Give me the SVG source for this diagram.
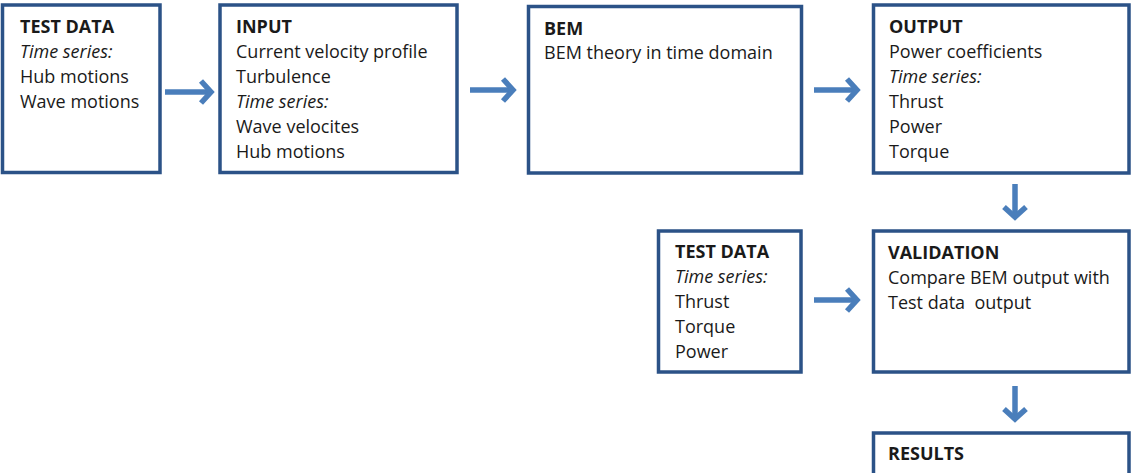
<svg xmlns="http://www.w3.org/2000/svg" width="1133" height="473" viewBox="0 0 1133 473">
  <style>
    .box { fill: #ffffff; stroke: #2b5287; stroke-width: 3.5; }
    text { font-family: "Open Sans", "Noto Sans", "Liberation Sans", sans-serif; font-size: 18px; fill: #1a1a1a; white-space: pre; }
    .title { font-weight: bold; }
    .ital { font-style: italic; }
    .conn { fill: none; stroke: #4a7ebb; stroke-width: 5.5; }
  </style>
  <defs>
    <!-- chevron head, drawn pointing right, tip at (0,0) -->
    <path id="head" d="M -12 -11 L -2 0 L -12 11" fill="none" stroke="#4a7ebb" stroke-width="5.5" stroke-linejoin="miter"/>
  </defs>
  <rect width="1133" height="473" fill="#ffffff"/>

  <g id="test-data-1">
    <rect class="box" x="2.5" y="5" width="157.5" height="167.5"/>
    <text class="title" x="20" y="33">TEST DATA</text>
    <text class="ital" x="20" y="58">Time series:</text>
    <text x="20" y="83">Hub motions</text>
    <text x="20" y="108">Wave motions</text>
  </g>

  <g id="input">
    <rect class="box" x="220" y="5" width="237" height="167.5"/>
    <text class="title" x="236" y="33">INPUT</text>
    <text x="236" y="58">Current velocity profile</text>
    <text x="236" y="83">Turbulence</text>
    <text class="ital" x="236" y="108">Time series:</text>
    <text x="236" y="133">Wave velocites</text>
    <text x="236" y="158">Hub motions</text>
  </g>

  <g id="bem">
    <rect class="box" x="528.5" y="6.5" width="273" height="166.5"/>
    <text class="title" x="544" y="35">BEM</text>
    <text x="544" y="59">BEM theory in time domain</text>
  </g>

  <g id="output">
    <rect class="box" x="873.5" y="5" width="255.5" height="168"/>
    <text class="title" x="889" y="33">OUTPUT</text>
    <text x="889" y="58">Power coefficients</text>
    <text class="ital" x="889" y="83">Time series:</text>
    <text x="889" y="108">Thrust</text>
    <text x="889" y="133">Power</text>
    <text x="889" y="158">Torque</text>
  </g>

  <g id="test-data-2">
    <rect class="box" x="658.5" y="231" width="142.5" height="141"/>
    <text class="title" x="675" y="258">TEST DATA</text>
    <text class="ital" x="675" y="283">Time series:</text>
    <text x="675" y="308">Thrust</text>
    <text x="675" y="333">Torque</text>
    <text x="675" y="358">Power</text>
  </g>

  <g id="validation">
    <rect class="box" x="873.5" y="231" width="255.5" height="141"/>
    <text class="title" x="888" y="259">VALIDATION</text>
    <text x="888" y="284">Compare BEM output with</text>
    <text x="888" y="309">Test data  output</text>
  </g>

  <g id="results">
    <rect class="box" x="873.5" y="433" width="255.5" height="60"/>
    <text class="title" x="888" y="460">RESULTS</text>
  </g>

  <g id="connectors">
    <line class="conn" x1="165" y1="92" x2="210" y2="92"/>
    <use href="#head" transform="translate(213,92)"/>
    <line class="conn" x1="470" y1="90" x2="512" y2="90"/>
    <use href="#head" transform="translate(515,90)"/>
    <line class="conn" x1="814" y1="90" x2="856" y2="90"/>
    <use href="#head" transform="translate(859,90)"/>
    <line class="conn" x1="814" y1="300" x2="856" y2="300"/>
    <use href="#head" transform="translate(859,300)"/>
    <line class="conn" x1="1015" y1="184" x2="1015" y2="216"/>
    <use href="#head" transform="translate(1015,219) rotate(90)"/>
    <line class="conn" x1="1015" y1="386" x2="1015" y2="418"/>
    <use href="#head" transform="translate(1015,421) rotate(90)"/>
  </g>
</svg>
